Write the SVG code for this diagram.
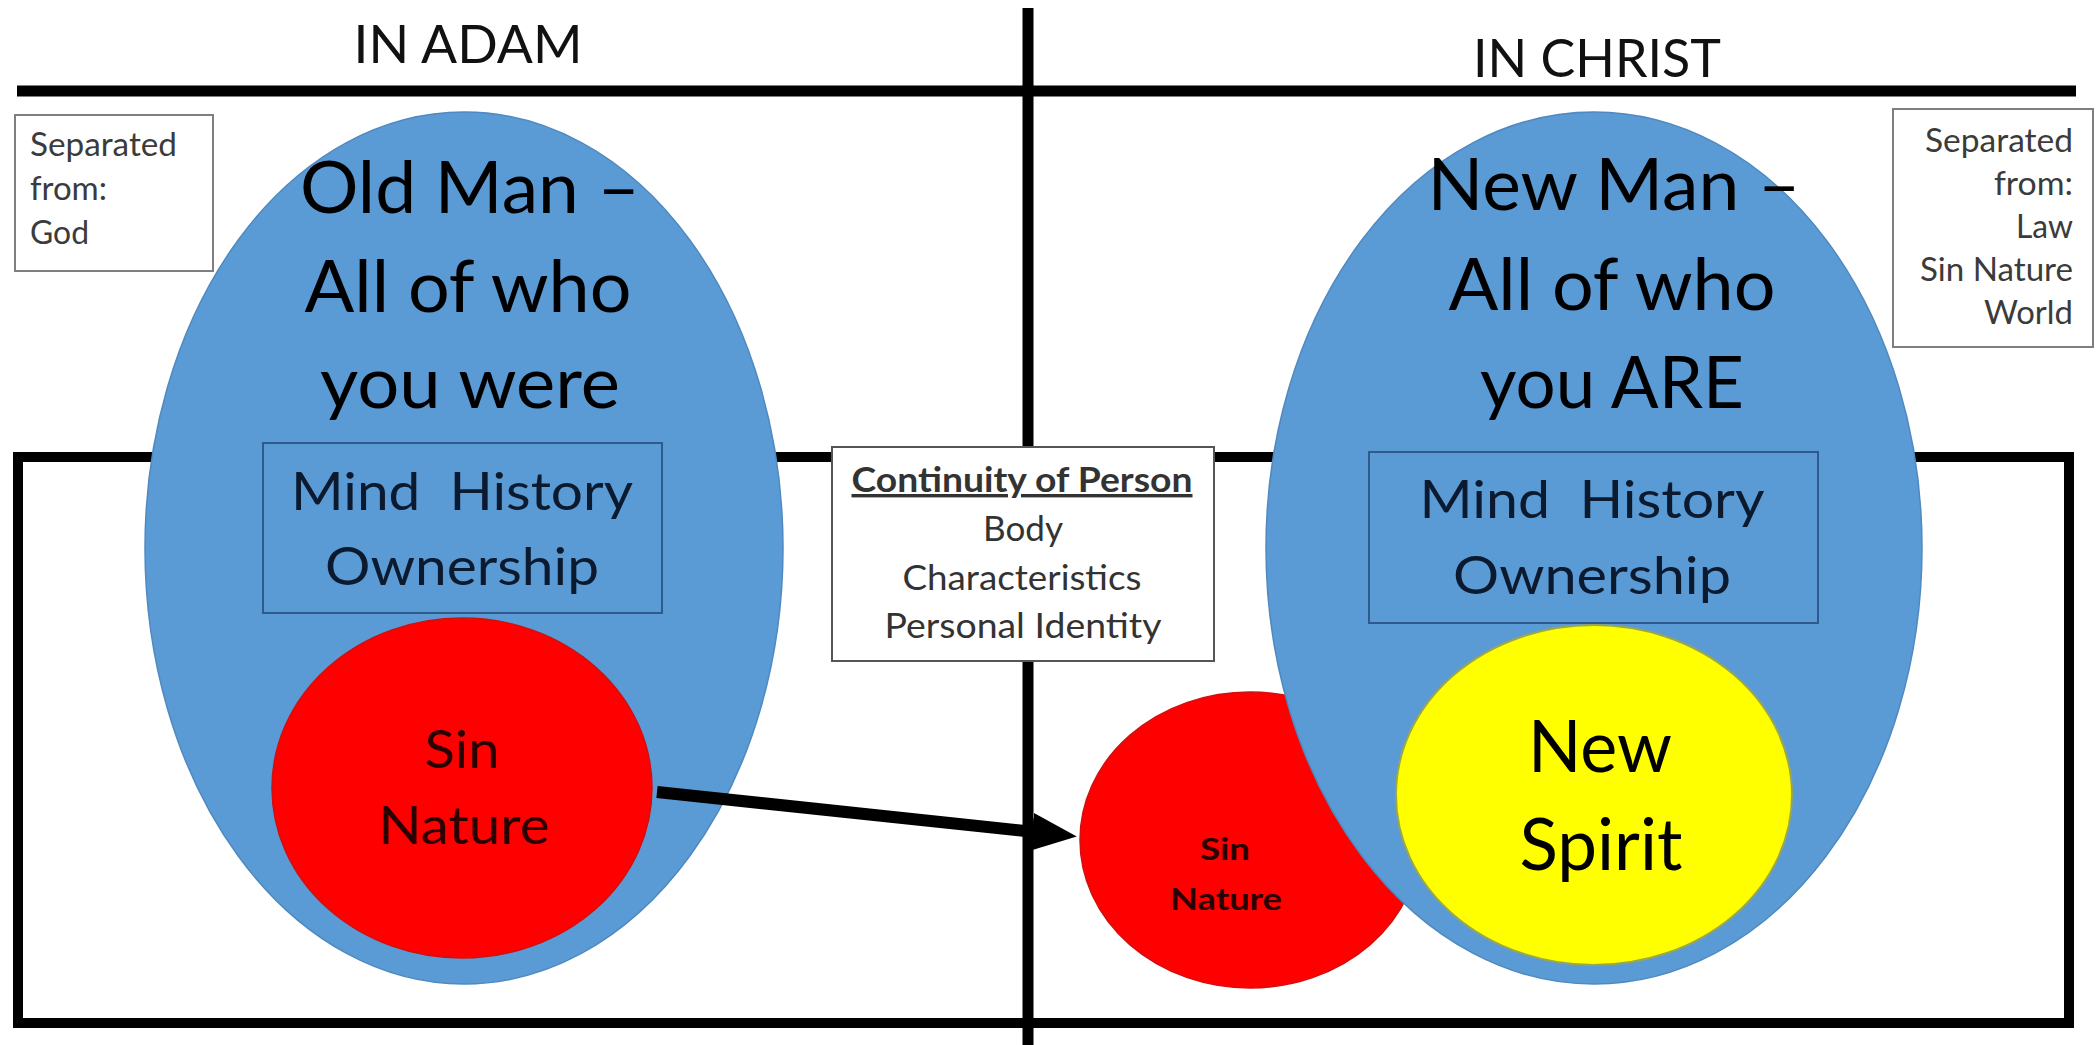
<svg xmlns="http://www.w3.org/2000/svg" width="2098" height="1045" viewBox="0 0 2098 1045">
<style>
text{font-family:Lato,"Open Sans","Liberation Sans",sans-serif;}
.bar{stroke:#000;stroke-width:11;fill:none;}
.frame{stroke:#000;stroke-width:10;fill:none;}
.head{font-size:53px;fill:#111;text-anchor:middle;}
.note{fill:#fff;stroke:#7f7f7f;stroke-width:2;}
.ntxt{font-size:33px;fill:#3b3b3b;}
.blue{fill:#5B9BD5;stroke:#4F89C0;stroke-width:1.5;}
.red{fill:#FF0000;stroke:#D01010;stroke-width:1.5;}
.yel{fill:#FFFF00;stroke:#9AA84A;stroke-width:2;}
.title{font-size:72px;fill:#000;text-anchor:middle;}
.mh{fill:none;stroke:#2F5A8C;stroke-width:2;}
.mtxt{font-size:52px;fill:#0B1A2E;text-anchor:middle;}
.sin{font-size:52px;fill:#2A0000;text-anchor:middle;}
.cont{fill:#fff;stroke:#555;stroke-width:2;}
.ctxt{font-size:34px;fill:#333;text-anchor:middle;}
.conn{stroke:#000;stroke-width:12;fill:none;}
</style>
<defs>
<marker id="ah" markerUnits="userSpaceOnUse" markerWidth="46" markerHeight="40" refX="2" refY="19" orient="auto" viewBox="0 0 46 38">
<path d="M0,0 L45,19 L0,38 z" fill="#000"/>
</marker>
</defs>
<rect width="2098" height="1045" fill="#fff"/>

<g id="dividers">
<line class="bar" x1="17" y1="91" x2="2076" y2="91"/>
<line class="bar" x1="1028" y1="8" x2="1028" y2="1045"/>
<rect class="frame" x="18" y="457" width="2051" height="566"/>
</g>

<g id="heading-adam"><text class="head" x="468" y="63" textLength="229" lengthAdjust="spacingAndGlyphs">IN ADAM</text></g>
<g id="heading-christ"><text class="head" x="1597" y="77" textLength="248" lengthAdjust="spacingAndGlyphs">IN CHRIST</text></g>

<g id="sep-god">
<rect class="note" x="15" y="115" width="198" height="156"/>
<text class="ntxt" x="30" y="156" textLength="147" lengthAdjust="spacingAndGlyphs">Separated</text>
<text class="ntxt" x="30" y="200" textLength="77" lengthAdjust="spacingAndGlyphs">from:</text>
<text class="ntxt" x="30" y="244" textLength="59" lengthAdjust="spacingAndGlyphs">God</text>
</g>

<g id="sep-law">
<rect class="note" x="1893" y="109" width="200" height="238"/>
<g text-anchor="end">
<text class="ntxt" x="2073" y="152" textLength="148" lengthAdjust="spacingAndGlyphs">Separated</text>
<text class="ntxt" x="2073" y="195" textLength="79" lengthAdjust="spacingAndGlyphs">from:</text>
<text class="ntxt" x="2073" y="238" textLength="57" lengthAdjust="spacingAndGlyphs">Law</text>
<text class="ntxt" x="2073" y="281" textLength="153" lengthAdjust="spacingAndGlyphs">Sin Nature</text>
<text class="ntxt" x="2073" y="324" textLength="89" lengthAdjust="spacingAndGlyphs">World</text>
</g>
</g>

<g id="old-man">
<ellipse class="blue" cx="464" cy="548" rx="319" ry="436"/>
<text class="title" x="470" y="213" textLength="340" lengthAdjust="spacingAndGlyphs">Old Man –</text>
<text class="title" x="468" y="312" textLength="327" lengthAdjust="spacingAndGlyphs">All of who</text>
<text class="title" x="470" y="408" textLength="300" lengthAdjust="spacingAndGlyphs">you were</text>
</g>

<g id="old-mind">
<rect class="mh" x="263" y="443" width="399" height="170"/>
<text class="mtxt" x="462" y="510" xml:space="preserve" textLength="342" lengthAdjust="spacingAndGlyphs">Mind  History</text>
<text class="mtxt" x="462" y="585" textLength="274" lengthAdjust="spacingAndGlyphs">Ownership</text>
</g>

<g id="old-sin">
<ellipse class="red" cx="462" cy="788" rx="190" ry="170"/>
<text class="sin" x="462" y="768" textLength="75" lengthAdjust="spacingAndGlyphs">Sin</text>
<text class="sin" x="464" y="844" textLength="171" lengthAdjust="spacingAndGlyphs">Nature</text>
</g>

<g id="continuity">
<rect class="cont" x="832" y="447" width="382" height="214"/>
<text class="ctxt" x="1022" y="492" font-weight="bold" text-decoration="underline" textLength="341" lengthAdjust="spacingAndGlyphs">Continuity of Person</text>
<text class="ctxt" x="1023" y="541" textLength="80" lengthAdjust="spacingAndGlyphs">Body</text>
<text class="ctxt" x="1022" y="590" textLength="239" lengthAdjust="spacingAndGlyphs">Characteristics</text>
<text class="ctxt" x="1023" y="638" textLength="277" lengthAdjust="spacingAndGlyphs">Personal Identity</text>
</g>

<g id="new-sin">
<ellipse class="red" cx="1250" cy="840" rx="170" ry="148"/>
<text x="1225" y="860" font-size="31" font-weight="bold" fill="#2A0000" text-anchor="middle" textLength="50" lengthAdjust="spacingAndGlyphs">Sin</text>
<text x="1226" y="910" font-size="31" font-weight="bold" fill="#2A0000" text-anchor="middle" textLength="112" lengthAdjust="spacingAndGlyphs">Nature</text>
</g>

<g id="new-man">
<ellipse class="blue" cx="1594" cy="548" rx="328" ry="436"/>
<text class="title" x="1614" y="210" textLength="373" lengthAdjust="spacingAndGlyphs">New Man –</text>
<text class="title" x="1612" y="310" textLength="327" lengthAdjust="spacingAndGlyphs">All of who</text>
<text class="title" x="1612" y="408" textLength="264" lengthAdjust="spacingAndGlyphs">you ARE</text>
</g>

<g id="new-mind">
<rect class="mh" x="1369" y="452" width="449" height="171"/>
<text class="mtxt" x="1592" y="518" xml:space="preserve" textLength="345" lengthAdjust="spacingAndGlyphs">Mind  History</text>
<text class="mtxt" x="1592" y="594" textLength="278" lengthAdjust="spacingAndGlyphs">Ownership</text>
</g>

<g id="new-spirit">
<ellipse class="yel" cx="1594" cy="795" rx="198" ry="170"/>
<text class="title" x="1600" y="772" font-size="68" textLength="144" lengthAdjust="spacingAndGlyphs">New</text>
<text class="title" x="1601" y="870" font-size="68" textLength="163" lengthAdjust="spacingAndGlyphs">Spirit</text>
</g>

<g id="connectors">
<line class="conn" x1="657" y1="792" x2="1034" y2="832" marker-end="url(#ah)"/>
</g>
</svg>
